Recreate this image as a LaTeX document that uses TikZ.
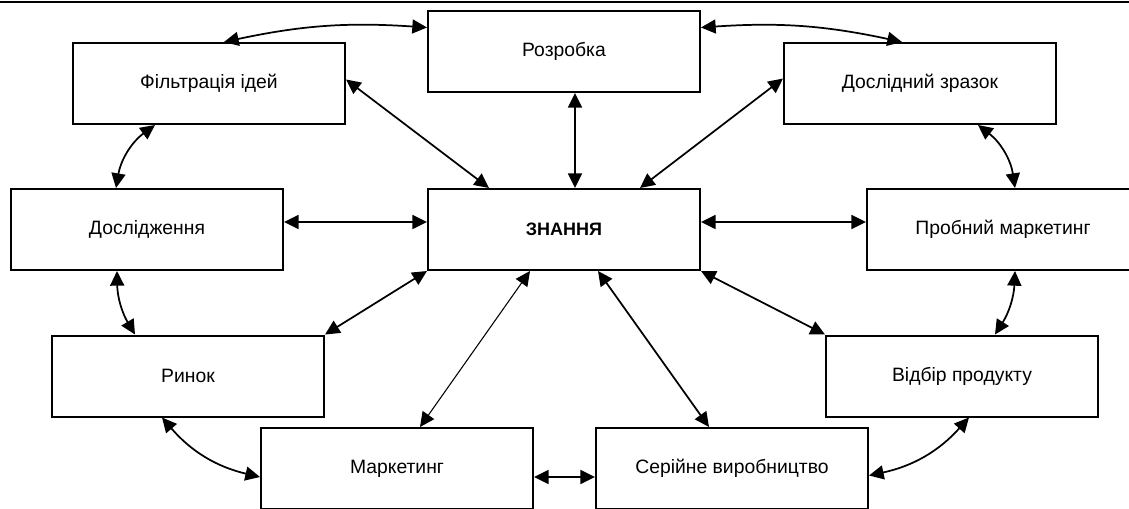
\documentclass[tikz,border=0pt]{standalone}
\usepackage{fontspec}
\setmainfont{Liberation Sans}
\usetikzlibrary{arrows.meta,calc}
\tikzset{
  stage/.style  = {draw, line width=1.5pt, minimum width=204pt, minimum height=60.75pt,
                   inner sep=0pt, font=\fontsize{14.5}{17}\selectfont},
  hub/.style    = {stage, font=\fontsize{13.5}{16}\selectfont\bfseries},
  link/.style   = {{Triangle[length=11pt,width=10.5pt]}-{Triangle[length=11pt,width=10.5pt]},
                   line width=1.3pt},
  thinlink/.style = {link, line width=0.8pt},
}
\begin{document}
\begin{tikzpicture}[x=0.75pt, y=-0.75pt]
    \useasboundingbox (0,0) rectangle (1129,508);
    \clip (0,0) rectangle (1129,508);
    \draw[line width=1.8pt] (0,2) -- (1129,2);
    % stages round the core
    \node[stage] (roz) at (564,51.5)  {Розробка};
    \node[stage] (fil) at (209,83.5)  {Фільтрація ідей};
    \node[stage] (dz)  at (920,83.5)  {Дослідний зразок};
    \node[stage] (dsl) at (147,229.5) {Дослідження};
    \node[hub]   (zn)  at (564,229.5) {ЗНАННЯ};
    \node[stage] (pro) at (1003,229.5) {Пробний маркетинг};
    \node[stage] (rin) at (188,376)   {Ринок};
    \node[stage] (vid) at (962,376)   {Відбір продукту};
    \node[stage] (mar) at (397,468.5) {Маркетинг};
    \node[stage] (ser) at (732,468.5) {Серійне виробництво};
    % outer ring
    \draw[link] ($(fil.north)+(15,0)$) to[bend left=8] ($(roz.west)+(0,-24)$);
    \draw[link] ($(roz.east)+(0,-24)$) to[bend left=8] ($(dz.north)+(-18,0)$);
    \draw[link] ($(fil.south)+(-54,0)$) to[bend right=22] ($(dsl.north)+(-31,0)$);
    \draw[link] ($(dz.south)+(58,0)$) to[bend left=22] ($(pro.north)+(12,0)$);
    \draw[link] ($(dsl.south)+(-30,0)$) to[bend right=15] ($(rin.north)+(-53,0)$);
    \draw[link] ($(pro.south)+(12,0)$) to[bend left=15] ($(vid.north)+(33,0)$);
    \draw[link] ($(rin.south)+(-26,0)$) to[bend right=18] ($(mar.west)+(0,8.5)$);
    \draw[link] ($(vid.south)+(7,0)$) to[bend left=18] ($(ser.east)+(0,7)$);
    \draw[link] ($(mar.east)+(0,8.5)$) -- ($(ser.west)+(0,8.5)$);
    % spokes to the core
    \draw[link] ($(dsl.east)+(0,-7.5)$) -- ($(zn.west)+(0,-7.5)$);
    \draw[link] ($(zn.east)+(0,-7.5)$) -- ($(pro.west)+(0,-7.5)$);
    \draw[link] ($(roz.south)+(11,0)$) -- ($(zn.north)+(11,0)$);
    \draw[link] ($(fil.east)+(0,-4)$) -- ($(zn.north)+(-75,0)$);
    \draw[link] ($(dz.west)+(0,-5)$) -- ($(zn.north)+(76,0)$);
    \draw[link] (zn.south west) -- (rin.north east);
    \draw[thinlink] ($(zn.south)+(-34,0)$) -- ($(mar.north)+(23,0)$);
    \draw[link] ($(zn.south)+(34,0)$) -- ($(ser.north)+(-23,0)$);
    \draw[link] (zn.south east) -- (vid.north west);
\end{tikzpicture}
\end{document}
